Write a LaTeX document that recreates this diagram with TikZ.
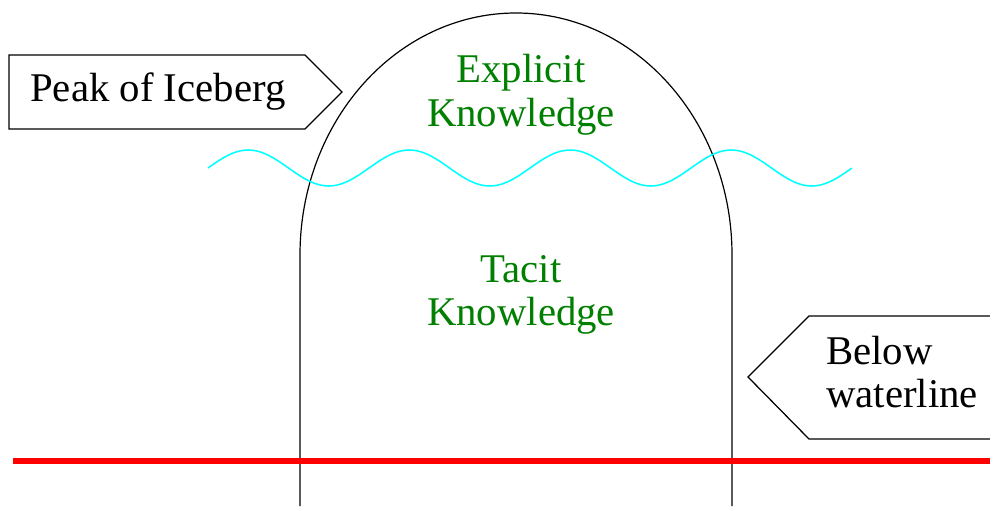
\documentclass[tikz,border=0pt]{standalone}
\usepackage{fontspec}
\setmainfont{Liberation Serif}
\definecolor{kgreen}{HTML}{008000}
\definecolor{kcyan}{HTML}{00FFFF}
\definecolor{kred}{HTML}{FF0000}
\usepackage{tikz}
\usetikzlibrary{positioning}

\begin{document}
\begin{tikzpicture}[
  x=0.025cm, y=-0.025cm,
  tag/.style={draw=black, line width=0.9pt},
  lbl/.style={font=\fontsize{29}{31}\selectfont, inner sep=0pt},
  know/.style={lbl, text=kgreen, align=center},
]
  \clip (0,0) rectangle (990,506);
  \fill[white] (0,0) rectangle (990,506);

  % iceberg outline
  \draw[line width=0.85pt] (300,506) -- (300,255)
    arc[start angle=180, end angle=0, x radius=216, y radius=-242]
    -- (732,506);

  % waterline wave
  \draw[kcyan, line width=1.1pt]
    plot[domain=0:4, samples=161, smooth] ({208+161*\x}, {168-18*sin(360*\x)});

  % sea floor
  \draw[kred, line width=4.4pt] (13,461) -- (995,461);

  % labels
  \draw[tag] (9,55) -- (305,55) -- (342,92) -- (305,129) -- (9,129) -- cycle;
  \node[lbl, anchor=west] (peak) at (30,92) {Peak of Iceberg};

  \draw[tag] (1000,316) -- (809,316) -- (748,377) -- (809,439) -- (1000,439);
  \node[lbl, anchor=west, align=left] (below) at (826,372) {Below\\waterline};

  \node[know] (explicit) at (521,95) {Explicit\\Knowledge};
  \node[know] (tacit) at (521,295) {Tacit\\Knowledge};
\end{tikzpicture}
\end{document}
